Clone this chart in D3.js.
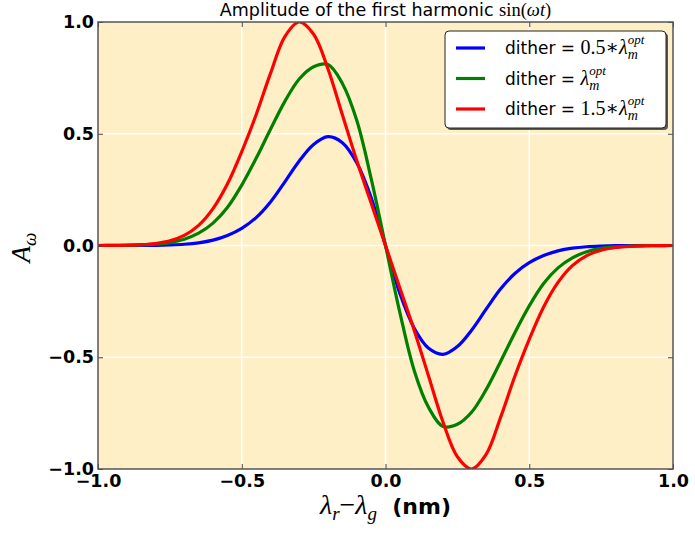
<!DOCTYPE html>
<html>
<head>
<meta charset="utf-8">
<script src="https://cdn.jsdelivr.net/npm/d3@7/dist/d3.min.js"></script>
<style>
  html, body { margin: 0; padding: 0; background: #fff; }
  svg { display: block; }
  .sans { font-family: "DejaVu Sans", sans-serif; }
  .math { font-family: "Liberation Serif", "DejaVu Serif", serif; }
</style>
</head>
<body>
<svg id="chart" width="695" height="533"></svg>
<script>
  // detuning lambda_r - lambda_g (nm)
  var xs = [-1.00, -0.95, -0.90, -0.85, -0.80, -0.75, -0.70, -0.65, -0.60, -0.55,
            -0.50, -0.45, -0.40, -0.35, -0.30, -0.25, -0.20, -0.15, -0.10, -0.05,
             0.00,  0.05,  0.10,  0.15,  0.20,  0.25,  0.30,  0.35,  0.40,  0.45,
             0.50,  0.55,  0.60,  0.65,  0.70,  0.75,  0.80,  0.85,  0.90,  0.95, 1.00];

  // dither = 0.5 * lambda_m^opt
  var ampHalf = [0, 0, 0.0002, 0.0005, 0.001, 0.0025, 0.0055, 0.012, 0.024, 0.045,
                 0.077, 0.125, 0.195, 0.285, 0.378, 0.452, 0.487, 0.46, 0.37, 0.215,
                 0, -0.215, -0.37, -0.46, -0.487, -0.452, -0.378, -0.285, -0.195, -0.125,
                 -0.077, -0.045, -0.024, -0.012, -0.0055, -0.0025, -0.001, -0.0005, -0.0002, 0, 0];

  // dither = lambda_m^opt
  var ampOne = [0, 0.0003, 0.001, 0.0025, 0.006, 0.013, 0.028, 0.055, 0.1, 0.17,
                0.27, 0.39, 0.52, 0.645, 0.745, 0.8, 0.81, 0.725, 0.56, 0.30,
                0, -0.30, -0.56, -0.725, -0.81, -0.8, -0.745, -0.645, -0.52, -0.39,
                -0.27, -0.17, -0.1, -0.055, -0.028, -0.013, -0.006, -0.0025, -0.001, -0.0003, 0];

  // dither = 1.5 * lambda_m^opt
  var ampOneHalf = [0, 0.0003, 0.0012, 0.0035, 0.009, 0.021, 0.045, 0.09, 0.165, 0.275,
                    0.42, 0.585, 0.77, 0.935, 1.0, 0.945, 0.79, 0.585, 0.38, 0.19,
                    0, -0.19, -0.38, -0.585, -0.79, -0.945, -1.0, -0.935, -0.77, -0.585,
                    -0.42, -0.275, -0.165, -0.09, -0.045, -0.021, -0.009, -0.0035, -0.0012, -0.0003, 0];

  var xTicks = [-1.0, -0.5, 0.0, 0.5, 1.0];
  var yTicks = [-1.0, -0.5, 0.0, 0.5, 1.0];

  var series = [
    {name: "half", color: "#0000ff", values: ampHalf, pre: "0.5\u2217"},
    {name: "one", color: "#008000", values: ampOne, pre: ""},
    {name: "onehalf", color: "#ff0000", values: ampOneHalf, pre: "1.5\u2217"}
  ];

  (function () {
    var margin = {left: 98, right: 22, top: 22, bottom: 64};
    var W = 695, H = 533;

    var svg = d3.select("#chart");
    var x = d3.scaleLinear().domain([-1, 1]).range([margin.left, W - margin.right]);
    var y = d3.scaleLinear().domain([-1, 1]).range([H - margin.bottom, margin.top]);

    var fmt = function (d) { return d3.format(".1f")(d).replace("-", "\u2212"); };

    svg.append("defs").append("clipPath").attr("id", "plotclip")
      .append("rect")
      .attr("x", x(-1)).attr("y", y(1))
      .attr("width", x(1) - x(-1)).attr("height", y(-1) - y(1));

    // axes background
    svg.append("rect")
      .attr("x", x(-1)).attr("y", y(1))
      .attr("width", x(1) - x(-1)).attr("height", y(-1) - y(1))
      .attr("fill", "#feefc6");

    // white grid
    var grid = svg.append("g").attr("class", "grid");
    grid.selectAll("line.gx").data(xTicks.slice(1, -1)).enter().append("line")
      .attr("class", "gx")
      .attr("x1", function (d) { return x(d); }).attr("x2", function (d) { return x(d); })
      .attr("y1", y(1)).attr("y2", y(-1))
      .attr("stroke", "#fff").attr("stroke-width", 1.5);
    grid.selectAll("line.gy").data(yTicks.slice(1, -1)).enter().append("line")
      .attr("class", "gy")
      .attr("y1", function (d) { return y(d); }).attr("y2", function (d) { return y(d); })
      .attr("x1", x(-1)).attr("x2", x(1))
      .attr("stroke", "#fff").attr("stroke-width", 1.5);

    // curves
    var line = d3.line()
      .x(function (d, i) { return x(xs[i]); })
      .y(function (d) { return y(d); })
      .curve(d3.curveCatmullRom.alpha(0.5));

    svg.append("g").attr("clip-path", "url(#plotclip)")
      .selectAll("path.curve").data(series).enter().append("path")
      .attr("class", "curve")
      .attr("d", function (s) { return line(s.values); })
      .attr("fill", "none")
      .attr("stroke", function (s) { return s.color; })
      .attr("stroke-width", 3.2)
      .attr("stroke-linejoin", "round");

    // ticks (inward, on all four sides)
    function styleAxis(g) {
      g.select(".domain").remove();
      g.selectAll(".tick line").attr("stroke", "#444").attr("stroke-width", 1);
      g.selectAll(".tick text")
        .attr("class", "sans")
        .attr("font-size", 17.5).attr("font-weight", "bold").attr("fill", "#000");
    }

    var axBottom = svg.append("g").attr("transform", "translate(0," + y(-1) + ")")
      .call(d3.axisBottom(x).tickValues(xTicks).tickFormat(fmt).tickSizeInner(-5).tickSizeOuter(0).tickPadding(6));
    styleAxis(axBottom);

    var axTop = svg.append("g").attr("transform", "translate(0," + y(1) + ")")
      .call(d3.axisTop(x).tickValues(xTicks).tickFormat("").tickSizeInner(-5).tickSizeOuter(0));
    styleAxis(axTop);

    var axLeft = svg.append("g").attr("transform", "translate(" + x(-1) + ",0)")
      .call(d3.axisLeft(y).tickValues(yTicks).tickFormat(fmt).tickSizeInner(-5).tickSizeOuter(0).tickPadding(4));
    styleAxis(axLeft);

    var axRight = svg.append("g").attr("transform", "translate(" + x(1) + ",0)")
      .call(d3.axisRight(y).tickValues(yTicks).tickFormat("").tickSizeInner(-5).tickSizeOuter(0));
    styleAxis(axRight);

    // frame
    svg.append("rect")
      .attr("x", x(-1)).attr("y", y(1))
      .attr("width", x(1) - x(-1)).attr("height", y(-1) - y(1))
      .attr("fill", "none").attr("stroke", "#555").attr("stroke-width", 1.5);

    // title
    var title = svg.append("text")
      .attr("x", (x(-1) + x(1)) / 2).attr("y", 16)
      .attr("text-anchor", "middle").attr("font-size", 17.5);
    title.append("tspan").attr("class", "sans").text("Amplitude of the first harmonic ");
    title.append("tspan").attr("class", "math").attr("font-size", 18.5).text("sin(");
    title.append("tspan").attr("class", "math").attr("font-size", 18.5).attr("font-style", "italic").text("\u03c9t");
    title.append("tspan").attr("class", "math").attr("font-size", 18.5).text(")");

    // x label
    var xl = svg.append("text")
      .attr("x", (x(-1) + x(1)) / 2).attr("y", 514)
      .attr("text-anchor", "middle");
    xl.append("tspan").attr("class", "math").attr("font-size", 28).attr("font-style", "italic").text("\u03bb");
    xl.append("tspan").attr("class", "math").attr("font-size", 19).attr("font-style", "italic").attr("dy", 6).text("r");
    xl.append("tspan").attr("class", "math").attr("font-size", 28).attr("dy", -6).text("\u2212");
    xl.append("tspan").attr("class", "math").attr("font-size", 28).attr("font-style", "italic").text("\u03bb");
    xl.append("tspan").attr("class", "math").attr("font-size", 19).attr("font-style", "italic").attr("dy", 6).text("g");
    xl.append("tspan").attr("class", "sans").attr("font-size", 22).attr("font-weight", "bold").attr("dy", -6).text("\u00a0\u00a0(nm)");

    // y label
    var yl = svg.append("text")
      .attr("transform", "translate(30," + (y(0) + 2) + ") rotate(-90)")
      .attr("text-anchor", "middle");
    yl.append("tspan").attr("class", "math").attr("font-size", 27).attr("font-style", "italic").text("A");
    yl.append("tspan").attr("class", "math").attr("font-size", 19).attr("font-style", "italic").attr("dy", 6).text("\u03c9");

    // legend
    var legend = svg.append("g").attr("transform", "translate(445,31)");
    legend.append("rect").attr("x", 2).attr("y", 2).attr("width", 221).attr("height", 97)
      .attr("rx", 4).attr("fill", "#333").attr("opacity", 0.8);
    legend.append("rect").attr("x", 0).attr("y", 0).attr("width", 221).attr("height", 97)
      .attr("rx", 4).attr("fill", "#fff").attr("stroke", "#222").attr("stroke-width", 1);

    var rows = legend.selectAll("g.row").data(series).enter().append("g")
      .attr("class", "row")
      .attr("transform", function (d, i) { return "translate(0," + (17 + i * 30.5) + ")"; });
    rows.append("line").attr("x1", 11).attr("x2", 40).attr("y1", 0).attr("y2", 0)
      .attr("stroke", function (d) { return d.color; }).attr("stroke-width", 3.2);
    var lt = rows.append("text").attr("x", 60).attr("y", 6);
    lt.append("tspan").attr("class", "sans").attr("font-size", 17).text("dither = ");
    lt.append("tspan").attr("class", "math").attr("font-size", 20)
      .text(function (d) { return d.pre; });
    lt.append("tspan").attr("class", "math").attr("font-size", 20).attr("font-style", "italic").text("\u03bb");
    lt.append("tspan").attr("class", "math").attr("font-size", 14).attr("font-style", "italic").attr("dy", 5).text("m");
    lt.append("tspan").attr("class", "math").attr("font-size", 13).attr("font-style", "italic").attr("dx", -10).attr("dy", -15).text("opt");
  })();
</script>
</body>
</html>
